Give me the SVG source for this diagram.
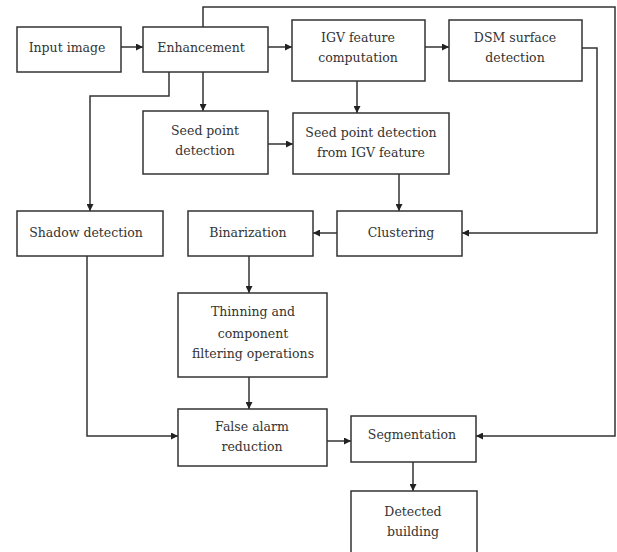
<svg xmlns="http://www.w3.org/2000/svg" width="617" height="552" viewBox="0 0 617 552">
<style>
.box{fill:#fff;stroke:#333;stroke-width:1.5}
.t{font-family:"DejaVu Serif","Liberation Serif",serif;font-size:12.5px;fill:#333;text-anchor:middle}
.c{fill:none;stroke:#333;stroke-width:1.5}
</style>
<defs>
<marker id="a" viewBox="0 0 10 10" refX="10" refY="5" markerWidth="7" markerHeight="7" markerUnits="userSpaceOnUse" orient="auto">
<path d="M0,0 L10,5 L0,10 z" fill="#222"/>
</marker>
</defs>
<rect width="617" height="552" fill="#fff"/>
<g id="connectors">
<path class="c" d="M121,47 H143" marker-end="url(#a)"/>
<path class="c" d="M268,47 H292" marker-end="url(#a)"/>
<path class="c" d="M425,47 H449" marker-end="url(#a)"/>
<path class="c" d="M203,72 V111" marker-end="url(#a)"/>
<path class="c" d="M268,144 H293" marker-end="url(#a)"/>
<path class="c" d="M357,81 V113" marker-end="url(#a)"/>
<path class="c" d="M169,72 V96 H90 V211" marker-end="url(#a)"/>
<path class="c" d="M399,174 V211" marker-end="url(#a)"/>
<path class="c" d="M582,48 H597 V233 H462" marker-end="url(#a)"/>
<path class="c" d="M337,233 H313" marker-end="url(#a)"/>
<path class="c" d="M249,256 V293" marker-end="url(#a)"/>
<path class="c" d="M249,377 V409" marker-end="url(#a)"/>
<path class="c" d="M87,256 V436 H178" marker-end="url(#a)"/>
<path class="c" d="M327,441 H351" marker-end="url(#a)"/>
<path class="c" d="M203,27 V7 H615 V436 H476" marker-end="url(#a)"/>
<path class="c" d="M413,462 V491" marker-end="url(#a)"/>
</g>
<g id="input"><rect class="box" x="17" y="27" width="104" height="45"/><text class="t" x="67" y="52">Input image</text></g>
<g id="enhancement"><rect class="box" x="143" y="27" width="125" height="45"/><text class="t" x="201" y="52">Enhancement</text></g>
<g id="igv"><rect class="box" x="292" y="20" width="133" height="61"/><text class="t" x="358" y="42">IGV feature</text><text class="t" x="358" y="62">computation</text></g>
<g id="dsm"><rect class="box" x="449" y="20" width="133" height="61"/><text class="t" x="515" y="42">DSM surface</text><text class="t" x="515" y="62">detection</text></g>
<g id="seed"><rect class="box" x="143" y="111" width="125" height="63"/><text class="t" x="205" y="135">Seed point</text><text class="t" x="205" y="155">detection</text></g>
<g id="seedigv"><rect class="box" x="293" y="113" width="156" height="61"/><text class="t" x="371" y="137">Seed point detection</text><text class="t" x="371" y="157">from IGV feature</text></g>
<g id="shadow"><rect class="box" x="17" y="211" width="146" height="45"/><text class="t" x="86" y="237">Shadow detection</text></g>
<g id="binarization"><rect class="box" x="188" y="211" width="125" height="45"/><text class="t" x="248" y="237">Binarization</text></g>
<g id="clustering"><rect class="box" x="337" y="211" width="125" height="45"/><text class="t" x="401" y="237">Clustering</text></g>
<g id="thinning"><rect class="box" x="178" y="293" width="149" height="84"/><text class="t" x="253" y="316">Thinning and</text><text class="t" x="253" y="338">component</text><text class="t" x="253" y="358">filtering operations</text></g>
<g id="falsealarm"><rect class="box" x="178" y="409" width="149" height="57"/><text class="t" x="252" y="431">False alarm</text><text class="t" x="252" y="451">reduction</text></g>
<g id="segmentation"><rect class="box" x="351" y="416" width="125" height="46"/><text class="t" x="412" y="439">Segmentation</text></g>
<g id="detected"><rect class="box" x="351" y="491" width="126" height="70"/><text class="t" x="413" y="516">Detected</text><text class="t" x="413" y="536">building</text></g>
</svg>
